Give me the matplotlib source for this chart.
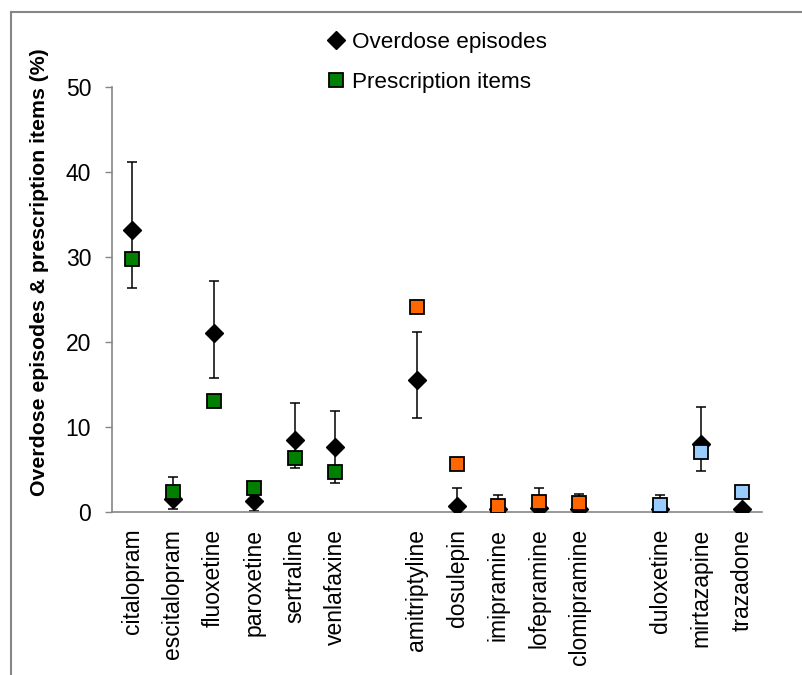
import numpy as np
import matplotlib
matplotlib.use('Agg')
import matplotlib.pyplot as plt
from matplotlib.lines import Line2D

plt.rcParams['font.family'] = ['Liberation Sans', 'DejaVu Sans']

# пустые строки - разрывы между группами препаратов
drugs = ['citalopram', 'escitalopram', 'fluoxetine', 'paroxetine', 'sertraline',
         'venlafaxine', '', 'amitriptyline', 'dosulepin', 'imipramine',
         'lofepramine', 'clomipramine', '', 'duloxetine', 'mirtazapine', 'trazadone']

overdose = [33.2, 1.5, 21.0, 1.3, 8.5, 7.6, np.nan, 15.5, 0.7, 0.35,
            0.45, 0.35, np.nan, 0.35, 8.0, 0.4]
err_low = [26.3, 0.35, 15.8, 0.15, 5.2, 3.4, np.nan, 11.0, 0.1, 0.05,
           0.1, 0.05, np.nan, 0.05, 4.8, 0.1]
err_high = [41.1, 4.1, 27.2, 2.4, 12.8, 11.9, np.nan, 21.2, 2.8, 2.0,
            2.8, 2.1, np.nan, 2.0, 12.3, 0.6]
prescriptions = [29.7, 2.3, 13.1, 2.85, 6.3, 4.7, np.nan, 24.1, 5.6, 0.65,
                 1.2, 1.05, np.nan, 0.85, 7.0, 2.3]
presc_colors = ['#008000'] * 6 + ['none'] + ['#FF6600'] * 5 + ['none'] + ['#99CCFF'] * 3

x = np.arange(len(drugs))
overdose = np.array(overdose)
yerr = np.array([overdose - np.array(err_low), np.array(err_high) - overdose])

fig = plt.figure(figsize=(8.03, 6.75), dpi=100)
ax = fig.add_axes([0.1395, 0.2415, 0.8095, 0.630])

ax.errorbar(x, overdose, yerr=yerr, fmt='none', ecolor='black',
            elinewidth=1.1, capsize=3.6, capthick=1.1, zorder=2)
ax.plot(x, overdose, linestyle='none', marker='D', markersize=9,
        color='black', zorder=3)
for xi, val, col in zip(x, prescriptions, presc_colors):
    if np.isnan(val):
        continue
    ax.plot(xi, val, linestyle='none', marker='s', markersize=10,
            markerfacecolor=col, markeredgecolor='black', markeredgewidth=1.3,
            zorder=4)

ax.set_xlim(-0.5, len(drugs) - 0.5)
ax.set_ylim(0, 50)
ax.set_yticks(range(0, 51, 10))
ax.set_xticks([xi for xi, d in zip(x, drugs) if d])
ax.set_xticklabels([d for d in drugs if d], rotation=90, fontsize=16.5)
ax.tick_params(axis='x', length=0, pad=12)
ax.tick_params(axis='y', length=5, width=1, color='#868686', pad=10,
               labelsize=16.5)

for side in ['top', 'right']:
    ax.spines[side].set_visible(False)
for side in ['left', 'bottom']:
    ax.spines[side].set_color('#868686')
    ax.spines[side].set_linewidth(1.2)

fig.text(40 / 803, 1 - 272 / 675, 'Overdose episodes & prescription items (%)',
         rotation=90, ha='center', va='center', fontsize=15.3, fontweight='bold')

handles = [
    Line2D([], [], linestyle='none', marker='D', markersize=9, color='black'),
    Line2D([], [], linestyle='none', marker='s', markersize=10,
           markerfacecolor='#008000', markeredgecolor='black', markeredgewidth=1.3),
]
fig.legend(handles, ['Overdose episodes', 'Prescription items'],
           loc='upper left', bbox_to_anchor=(328 / 803, 1 - 32 / 675),
           frameon=False, fontsize=16.2, handlelength=0.75, handletextpad=0.3,
           borderpad=0, borderaxespad=0, labelspacing=0.86)

# рамка области диаграммы (видны верх и левый край)
fig.add_artist(Line2D([11 / 803, 1], [1 - 12 / 675, 1 - 12 / 675],
                      transform=fig.transFigure, color='#868686', linewidth=1.5))
fig.add_artist(Line2D([11 / 803, 11 / 803], [0, 1 - 12 / 675],
                      transform=fig.transFigure, color='#868686', linewidth=1.5))

fig.savefig('out.png', dpi=100)
